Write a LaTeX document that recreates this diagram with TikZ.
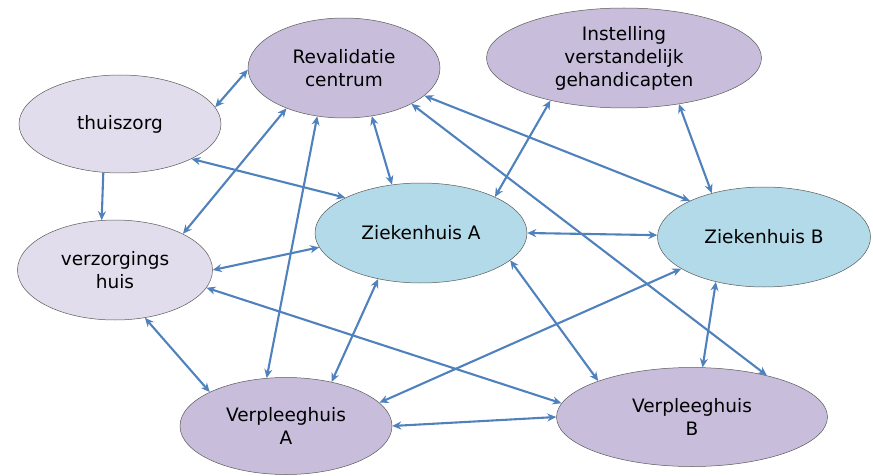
\documentclass[tikz,border=0pt]{standalone}
\usepackage{fontspec}
\setmainfont{DejaVu Sans}
\usetikzlibrary{shapes.geometric,arrows.meta}
\definecolor{paars}{RGB}{200,190,220}
\definecolor{lila}{RGB}{226,221,236}
\definecolor{zhblauw}{RGB}{178,218,232}
\definecolor{pijl}{RGB}{79,129,189}
\begin{document}
\begin{tikzpicture}[x=1pt,y=-1pt,
    punt/.tip={Stealth[length=9pt,width=8pt]},
    zorg/.style={ellipse,draw=gray!70!black,line width=0.5pt,inner sep=0pt,
      align=center,font=\fontsize{18.5}{23}\selectfont},
    link/.style={pijl,line width=2.1pt,punt-punt}]
\useasboundingbox (0,0) rectangle (873,476);
				\node[name=reval,zorg,fill=paars,minimum width=192pt,minimum height=100pt] at (344,68){Revalidatie\\centrum};
				\node[name=inst,zorg,fill=paars,minimum width=275pt,minimum height=100pt] at (624,58){Instelling\\verstandelijk\\gehandicapten};
				\node[name=thuis,zorg,fill=lila,minimum width=202pt,minimum height=98pt] at (120,124){thuiszorg};
				\node[name=verz,zorg,fill=lila,minimum width=195pt,minimum height=100pt] at (115,270){verzorgings\\huis};
				\node[name=zhA,zorg,fill=zhblauw,minimum width=212pt,minimum height=100pt] at (421,233){Ziekenhuis A};
				\node[name=zhB,zorg,fill=zhblauw,minimum width=213pt,minimum height=100pt] at (764,237){Ziekenhuis B};
				\node[name=vpA,zorg,fill=paars,minimum width=212pt,minimum height=97pt] at (286,426){Verpleeghuis\\A};
				\node[name=vpB,zorg,fill=paars,minimum width=271pt,minimum height=99pt] at (692,417){Verpleeghuis\\B};
				% verbindingen
				\draw[link] (thuis.10) -- (reval.181);
				\draw[link,-punt] (thuis.-109) -- (verz.105);
				\draw[link] (thuis.-26) -- (zhA.155);
				\draw[link] (reval.-145) -- (verz.28);
				\draw[link] (reval.-119) -- (vpA.112);
				\draw[link] (reval.-60) -- (zhA.121);
				\draw[link] (reval.-19) -- (zhB.154);
				\draw[link] (reval.-28) -- (vpB.29);
				\draw[link] (inst.-150) -- (zhA.26);
				\draw[link] (inst.-40) -- (zhB.140);
				\draw[link] (zhA.0) -- (zhB.179);
				\draw[link] (zhA.-172) -- (verz.0);
				\draw[link] (zhA.-133) -- (vpA.44);
				\draw[link] (zhA.-17) -- (vpB.159);
				\draw[link] (zhB.-159) -- (vpA.14);
				\draw[link] (zhB.-137) -- (vpB.78);
				\draw[link] (verz.-58) -- (vpA.156);
				\draw[link] (verz.-11) -- (vpB.174);
				\draw[link] (vpA.0) -- (vpB.180);
\end{tikzpicture}
\end{document}
